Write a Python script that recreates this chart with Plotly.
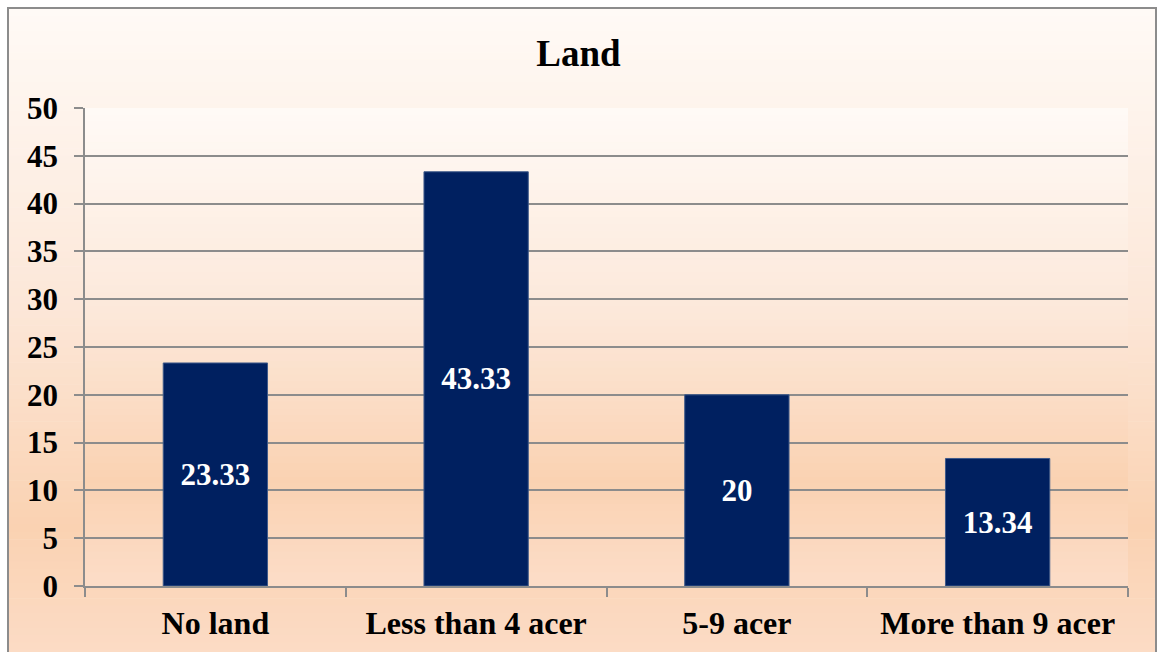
import plotly.graph_objects as go

categories = ["No land", "Less than 4 acer", "5-9 acer", "More than 9 acer"]
values = [23.33, 43.33, 20, 13.34]
labels = ["23.33", "43.33", "20", "13.34"]

W, H = 1157, 652
L, R, T, B = 85, 1128, 108, 586
pw, ph = R - L, B - T

def px_x(x):
    return (x - L) / pw

def px_y(y):
    return (B - y) / ph

stops = [(0.0, (255, 250, 246)), (0.45, (252, 231, 216)), (0.78, (250, 210, 178)), (1.0, (252, 221, 200))]

def grad(t):
    for (t0, c0), (t1, c1) in zip(stops[:-1], stops[1:]):
        if t <= t1:
            f = (t - t0) / (t1 - t0) if t1 > t0 else 0
            return "rgb(%d,%d,%d)" % tuple(round(a + (b - a) * f) for a, b in zip(c0, c1))
    return "rgb(%d,%d,%d)" % stops[-1][1]

shapes = []
def band_fill(x0, x1, y0, y1, n):
    for i in range(n):
        ya = y0 + (y1 - y0) * i / n
        yb = y0 + (y1 - y0) * (i + 1) / n + 0.6
        t = (i + 0.5) / n
        shapes.append(dict(type="rect", xref="paper", yref="paper", layer="below",
                           x0=px_x(x0), x1=px_x(x1), y0=px_y(yb), y1=px_y(ya),
                           fillcolor=grad(t), line=dict(width=0)))

band_fill(8, 1156, 8, 672, 90)
band_fill(L, R, T, B, 70)
shapes.append(dict(type="rect", xref="paper", yref="paper", layer="above",
                   x0=px_x(8), x1=px_x(1156), y0=px_y(660), y1=px_y(8),
                   fillcolor="rgba(0,0,0,0)", line=dict(color="#8C8C8C", width=2)))

font_family = "Liberation Serif, Times New Roman, serif"

fig = go.Figure(go.Bar(
    x=categories, y=values, text=labels,
    textposition="inside", insidetextanchor="middle", constraintext="none",
    textfont=dict(family=font_family, size=31, color="white", weight="bold"),
    marker=dict(color="#002060", line=dict(color="#3F5A8A", width=1)),
    width=0.4,
))

fig.update_layout(
    width=W, height=H,
    margin=dict(l=L, r=W - R, t=T, b=H - B),
    paper_bgcolor="white", plot_bgcolor="rgba(0,0,0,0)",
    shapes=shapes,
    showlegend=False,
    title=dict(text="<b>Land</b>", x=0.5, xanchor="center", xref="container",
               y=1 - 53 / H, yref="container", yanchor="middle",
               font=dict(family=font_family, size=37, color="black")),
    font=dict(family=font_family, color="black"),
)
fig.update_yaxes(range=[0, 50], dtick=5, showgrid=True, gridcolor="#8C8C8C", gridwidth=1.5,
                 showline=True, linecolor="#8C8C8C", linewidth=1.5,
                 ticks="outside", ticklen=9, tickcolor="#8C8C8C", tickwidth=1.5,
                 tickfont=dict(family=font_family, size=31, color="black", weight="bold"),
                 ticklabelstandoff=10, zeroline=False)
fig.update_xaxes(showline=True, linecolor="#8C8C8C", linewidth=1.5,
                 ticks="outside", ticklen=9, tickcolor="#8C8C8C", tickwidth=1.5,
                 tickson="boundaries",
                 tickfont=dict(family=font_family, size=32, color="black", weight="bold"),
                 ticklabelstandoff=8)

fig.write_html("out.html")
